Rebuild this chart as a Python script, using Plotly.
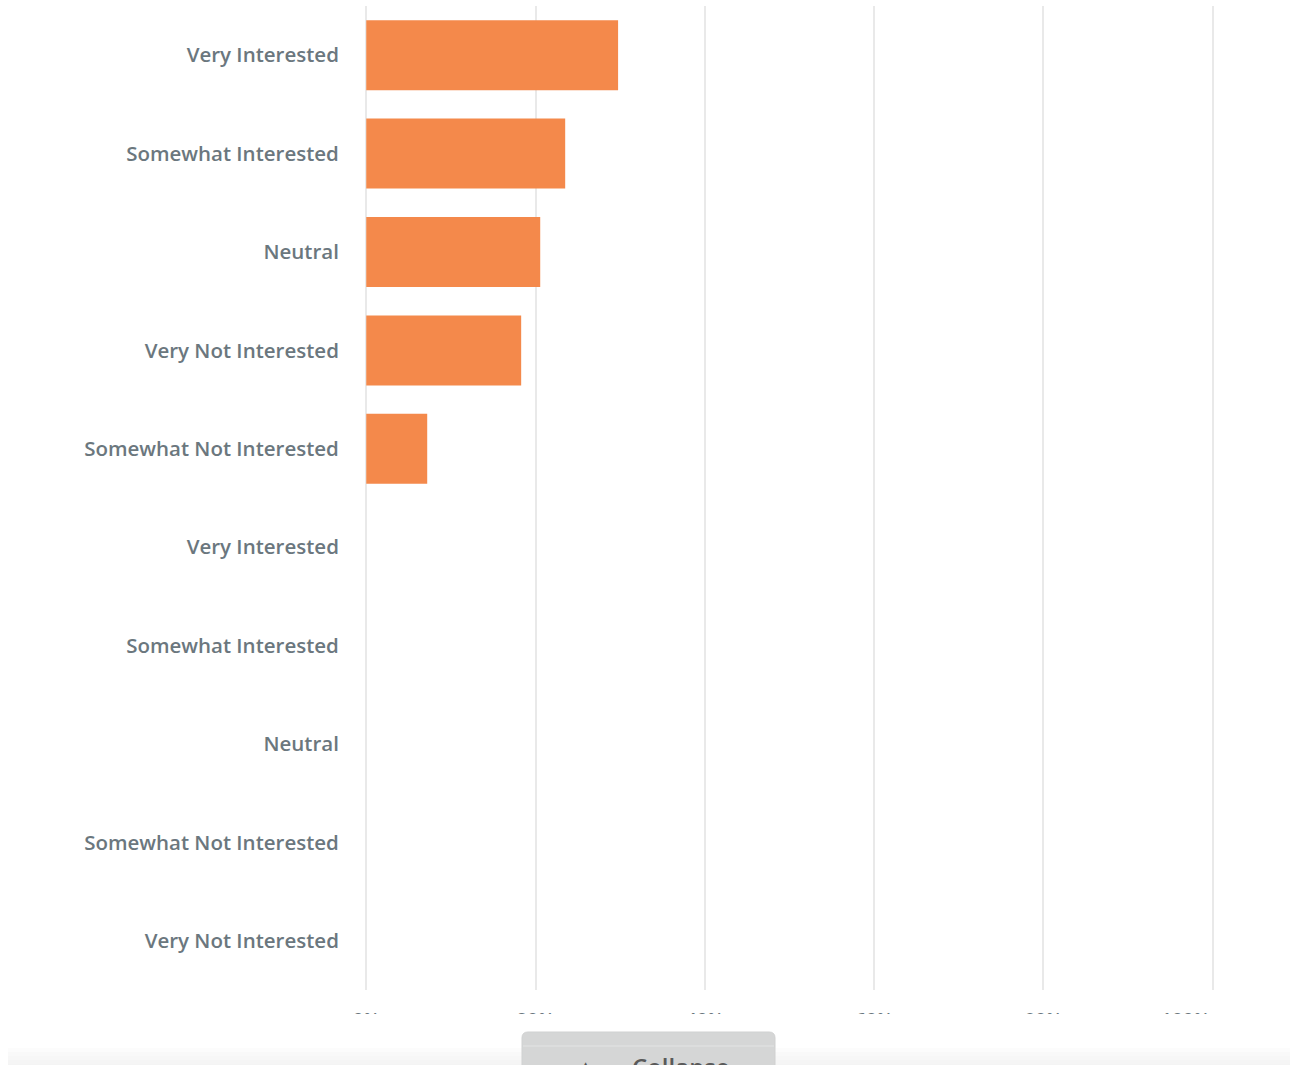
import plotly.graph_objects as go

# Survey answer options (the list repeats for the second question block)
categories = [
    "Very Interested", "Somewhat Interested", "Neutral", "Very Not Interested",
    "Somewhat Not Interested", "Very Interested", "Somewhat Interested",
    "Neutral", "Somewhat Not Interested", "Very Not Interested",
]
# Share of respondents (%) per option
shares = [29.75, 23.5, 20.55, 18.3, 7.2, 0, 0, 0, 0, 0]

x_tickvals = [0, 20, 40, 60, 80, 100]
x_ticktext = ["0%", "20%", "40%", "60%", "80%", "100%"]

W, H = 1293, 1065
ML, MR, MT, MB = 365, 79, 6, 75
X_RANGE = [-0.15, 100.15]

LABEL_GREY = "#6b777e"
BAR_ORANGE = "#f4894b"


def px_x(p):
    """Pixel column -> paper x."""
    return (p - ML) / (W - ML - MR)


def px_y(p):
    """Pixel row -> paper y."""
    return (H - MB - p) / (H - MT - MB)


rows = list(range(len(categories)))

# the last tick label is nudged left so it stays inside the card
NBSP = "\u00a0"
tick_labels = x_ticktext[:-1] + [x_ticktext[-1] + NBSP * 11]

fig = go.Figure(
    go.Bar(
        x=shares,
        y=rows,
        orientation="h",
        marker=dict(color=BAR_ORANGE, line=dict(width=0)),
        hoverinfo="skip",
    )
)

shapes = []
# white strip hiding the lower part of the axis labels
shapes.append(dict(type="rect", xref="paper", yref="paper",
                   x0=px_x(0), x1=px_x(W), y0=px_y(1014), y1=px_y(H + 5),
                   fillcolor="white", line=dict(width=0), layer="above"))
# soft grey footer band
band_cols = ["#fcfcfc", "#f9f9f9", "#f7f7f7", "#f5f5f5", "#f4f4f4"]
for i, c in enumerate(band_cols):
    top = 1048 + i * 4
    shapes.append(dict(type="rect", xref="paper", yref="paper",
                       x0=px_x(8), x1=px_x(1290), y0=px_y(top + 4 if i < 4 else H + 5),
                       y1=px_y(top), fillcolor=c, line=dict(width=0), layer="above"))

# "Collapse" button with rounded top corners
bx0, bx1, by0, by1, r = 522, 775, 1032, H + 10, 6
path = (
    f"M {px_x(bx0)},{px_y(by1)} "
    f"L {px_x(bx0)},{px_y(by0 + r)} "
    f"Q {px_x(bx0)},{px_y(by0)} {px_x(bx0 + r)},{px_y(by0)} "
    f"L {px_x(bx1 - r)},{px_y(by0)} "
    f"Q {px_x(bx1)},{px_y(by0)} {px_x(bx1)},{px_y(by0 + r)} "
    f"L {px_x(bx1)},{px_y(by1)} Z"
)
shapes.append(dict(type="path", xref="paper", yref="paper", path=path,
                   fillcolor="#d5d6d6", line=dict(color="#d0d1d1", width=1),
                   layer="above"))
shapes.append(dict(type="line", xref="paper", yref="paper",
                   x0=px_x(bx0 + 1), x1=px_x(bx1 - 1), y0=px_y(1046), y1=px_y(1046),
                   line=dict(color="#e3e4e4", width=1), layer="above"))

annotations = [
    dict(text="Collapse", xref="paper", yref="paper",
         x=px_x(630), y=px_y(1048), xanchor="left", yanchor="top",
         showarrow=False,
         font=dict(family="Open Sans", size=24, color="#5a5a5a", weight=600)),
    dict(text="▲", xref="paper", yref="paper",
         x=px_x(586), y=px_y(1057), xanchor="center", yanchor="top",
         showarrow=False,
         font=dict(family="DejaVu Sans", size=12, color="#555555")),
]

fig.update_layout(
    width=W, height=H,
    margin=dict(l=ML, r=MR, t=MT, b=MB, pad=0),
    paper_bgcolor="white", plot_bgcolor="white",
    showlegend=False,
    bargap=0.289,
    shapes=shapes,
    annotations=annotations,
    font=dict(family="Open Sans"),
    xaxis=dict(
        range=X_RANGE,
        tickvals=x_tickvals, ticktext=tick_labels,
        showgrid=True, gridcolor="#e9e9e9", gridwidth=2,
        zeroline=False, showline=False,
        ticks="outside", ticklen=13, tickcolor="rgba(0,0,0,0)",
        tickfont=dict(family="Open Sans", size=19, color=LABEL_GREY, weight=600),
        fixedrange=True,
    ),
    yaxis=dict(
        tickvals=rows, ticktext=categories,
        range=[len(categories) - 0.5, -0.5],
        showgrid=False, zeroline=False, showline=False,
        ticks="outside", ticklen=21, tickcolor="rgba(0,0,0,0)",
        tickfont=dict(family="Open Sans", size=20.5, color=LABEL_GREY, weight=600),
        fixedrange=True,
    ),
)

fig.write_html("out.html", config={"displayModeBar": False})
